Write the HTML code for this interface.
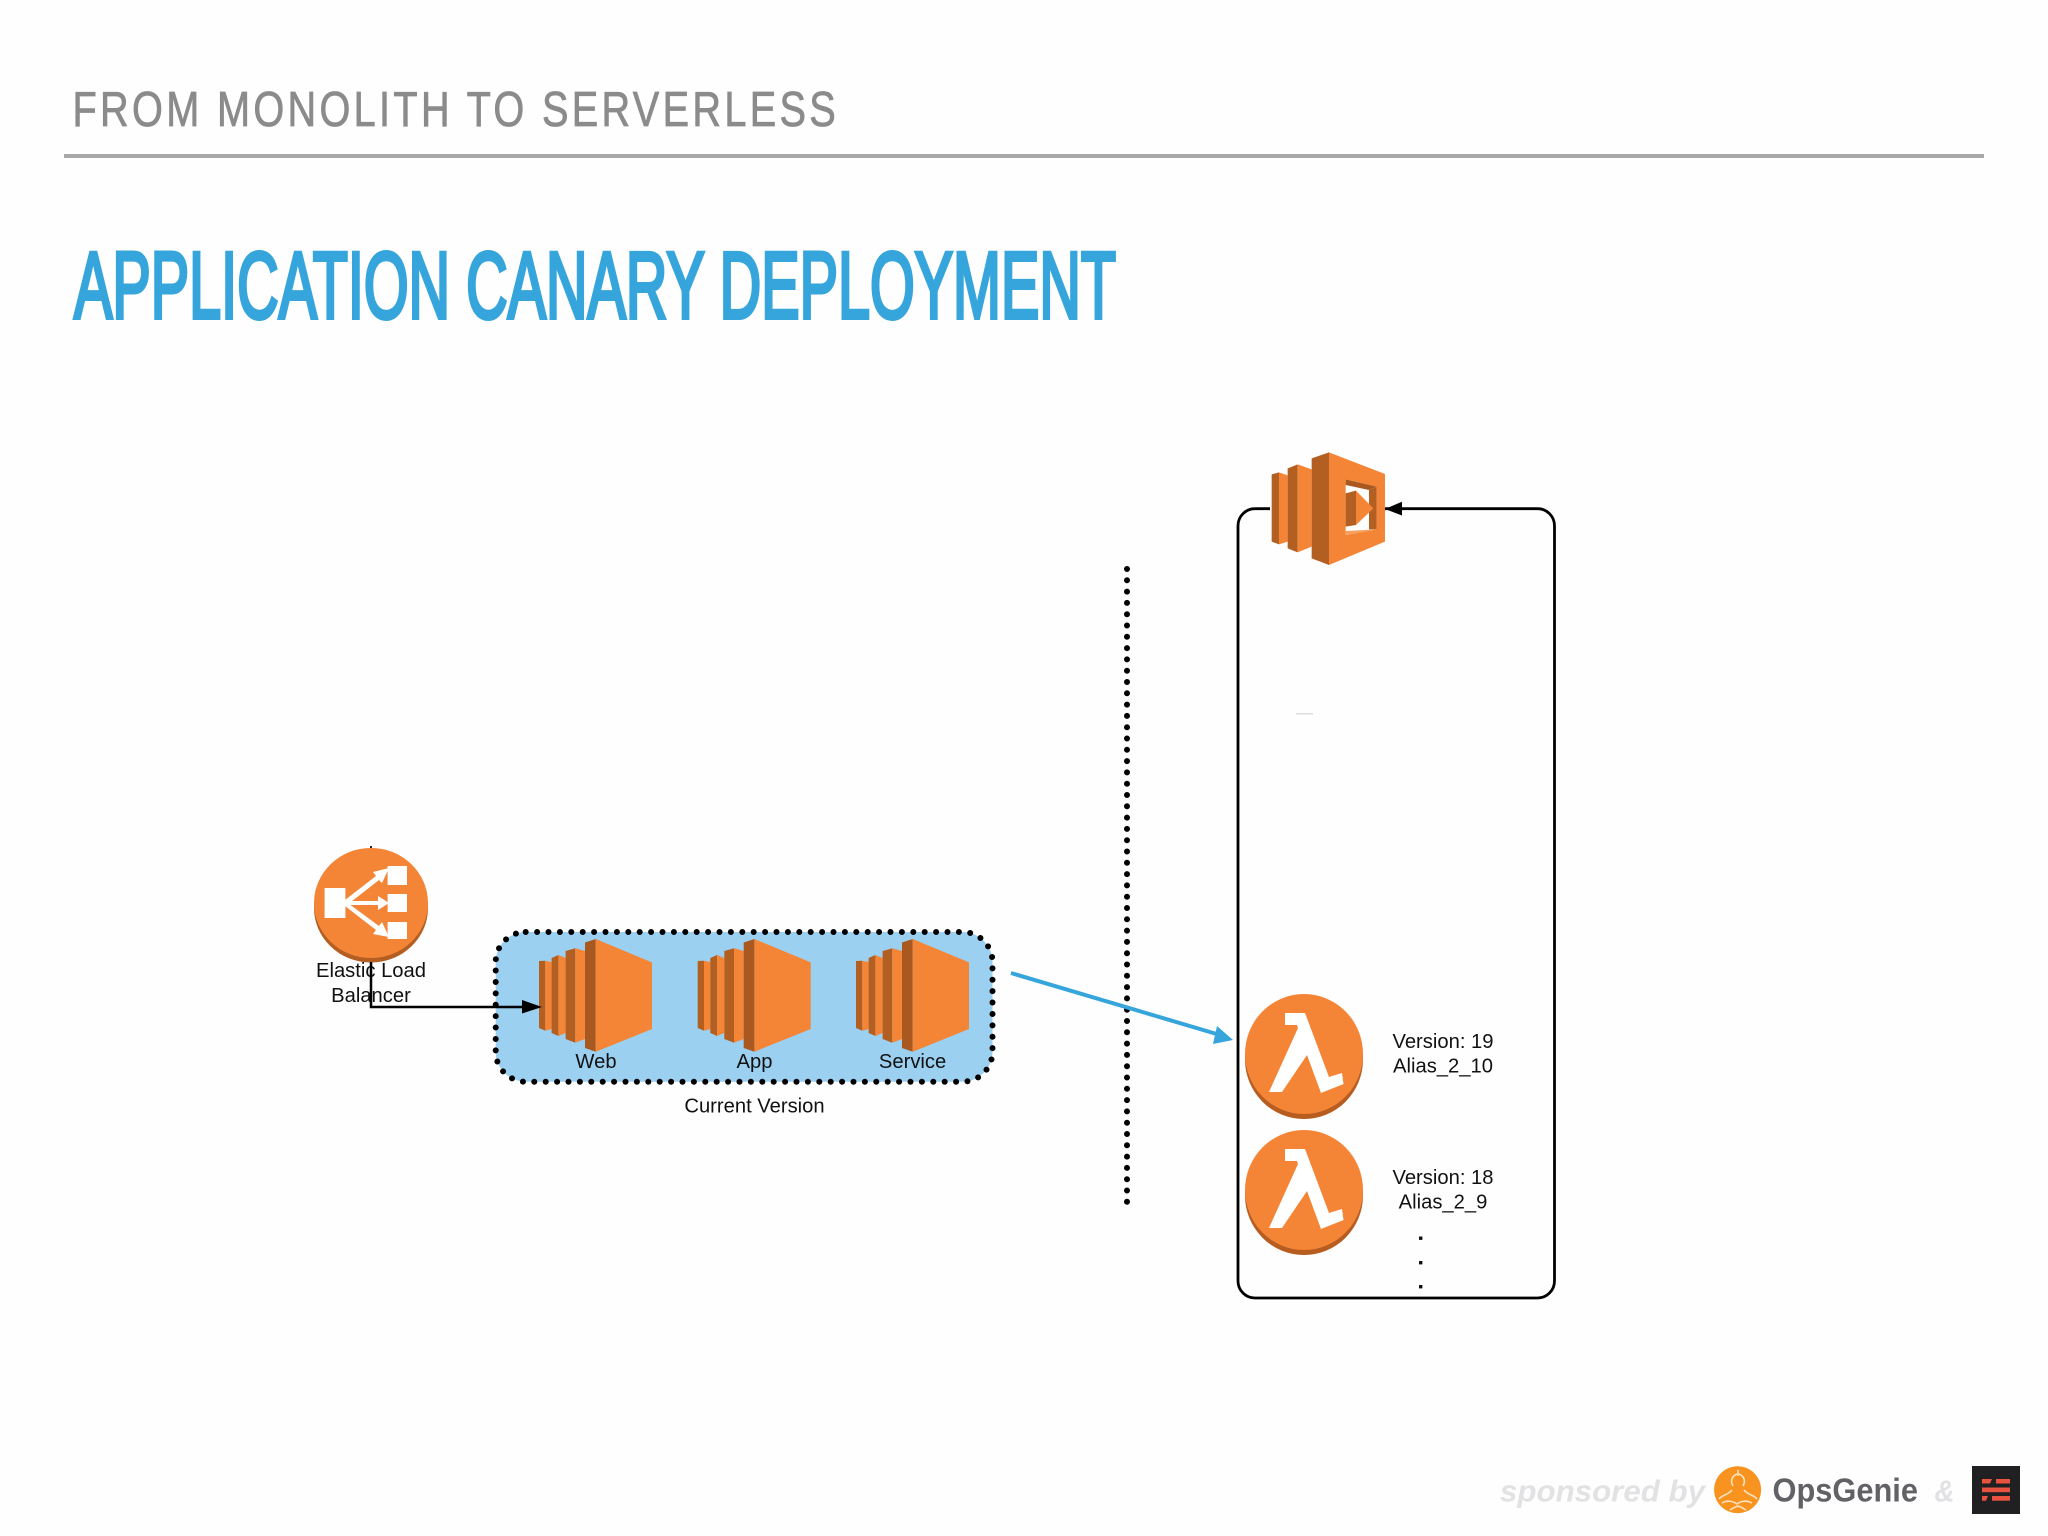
<!DOCTYPE html>
<html><head><meta charset="utf-8"><title>Application Canary Deployment</title>
<style>html,body{margin:0;padding:0;background:#fefefe}svg{display:block}text{font-family:"Liberation Sans",sans-serif}</style></head>
<body>
<svg xmlns="http://www.w3.org/2000/svg" width="2048" height="1536" viewBox="0 0 2048 1536">
<defs>
<g id="srv">
<polygon points="0,22 6.3,21.7 6.3,91.7 0,89" fill="#b35f22"/>
<polygon points="6.3,21.7 12.6,23 12.6,90 6.3,91.7" fill="#f58536"/>
<polygon points="12.6,19 19.4,16 19.4,97 12.6,94" fill="#b35f22"/>
<polygon points="19.4,16 26.6,19 26.6,94 19.4,97" fill="#f58536"/>
<polygon points="26.6,12 36.3,9.3 36.3,103.7 26.6,100" fill="#b35f22"/>
<polygon points="36.3,9.3 46,12 46,100 36.3,103.7" fill="#f58536"/>
<polygon points="46,3.5 56.7,0 56.7,112.7 46,109" fill="#a9591f"/>
<polygon points="56.7,0 113,23.4 113,90 56.7,112.7" fill="#f58536"/>
</g>
<g id="lam">
<ellipse cx="59" cy="65.5" rx="59" ry="59.5" fill="#b85d20"/>
<ellipse cx="59" cy="60" rx="59" ry="60" fill="#f58536"/>
<polygon points="40,19 60,19 84,83 97,79 98.5,90 76,99 62,61 37,98 24,98 53,34 52,31 40,31" fill="#fff"/>
</g>
</defs>

<text transform="translate(72.5 126) scale(.81,1)" font-size="49" fill="#8b8b8b" stroke="#8b8b8b" stroke-width=".8" letter-spacing="4.1">FROM MONOLITH TO SERVERLESS</text>
<rect x="64" y="154" width="1920" height="4" fill="#a8a8a8"/>
<text x="74" y="318" font-size="95" fill="#35a5dc" stroke="#35a5dc" stroke-width="4" textLength="1042" lengthAdjust="spacingAndGlyphs">APPLICATION CANARY DEPLOYMENT</text>

<!-- ELB -->
<rect x="370" y="846" width="2" height="6" fill="#222"/>
<ellipse cx="371" cy="908" rx="57" ry="54.5" fill="#b35f22"/>
<ellipse cx="371" cy="903" rx="57" ry="55" fill="#f58536"/>
<g fill="#fff">
<rect x="324.6" y="888" width="20.8" height="30"/>
<rect x="387.6" y="866" width="19.4" height="19"/>
<rect x="387.6" y="894" width="19.4" height="18"/>
<rect x="387.6" y="922" width="19.4" height="17"/>
<polygon points="345,900 376,876 373,872 389,868 382,883 379,880 347,905"/>
<polygon points="345,901 378,901 378,896 389,903 378,910 378,905 345,905"/>
<polygon points="345,901 379,926 382,922 389,937 373,934 376,930 345,906"/>
</g>

<!-- current version group -->
<rect x="495.7" y="932" width="496.8" height="149.7" rx="30" ry="30" fill="#9bd0f0" stroke="#000" stroke-width="6" stroke-linecap="round" stroke-dasharray="0 11.4"/>
<use href="#srv" x="539" y="939"/>
<use href="#srv" x="697.7" y="939"/>
<use href="#srv" x="856" y="939"/>

<text x="371" y="977" font-size="20.2" fill="#111" text-anchor="middle">Elastic Load</text>
<text x="371" y="1002" font-size="20.2" fill="#111" text-anchor="middle">Balancer</text>
<path d="M371 962V1007H525" fill="none" stroke="#000" stroke-width="2.5"/>
<polygon points="542,1007 522,1000 522,1013.5" fill="#000"/>
<text x="596" y="1068" font-size="20.2" fill="#111" text-anchor="middle">Web</text>
<text x="754.5" y="1068" font-size="20.2" fill="#111" text-anchor="middle">App</text>
<text x="912.6" y="1068" font-size="20.2" fill="#111" text-anchor="middle">Service</text>
<text x="754.5" y="1112.5" font-size="20.2" fill="#111" text-anchor="middle">Current Version</text>

<!-- dotted divider -->
<line x1="1127" y1="569" x2="1127" y2="1203" stroke="#000" stroke-width="6" stroke-linecap="round" stroke-dasharray="0 11.3"/>

<!-- blue arrow -->
<line x1="1011" y1="973" x2="1220" y2="1035" stroke="#35a5dc" stroke-width="4"/>
<polygon points="1233,1040 1217,1026 1213,1044" fill="#35a5dc"/>

<!-- lambda container -->
<rect x="1238" y="508.7" width="316.5" height="789.3" rx="17" ry="17" fill="#fefefe" stroke="#000" stroke-width="2.8"/>
<polygon points="1385,509 1402,501.7 1402,515.5" fill="#000"/>
<rect x="1296" y="713" width="17" height="1.5" fill="#ddd"/>

<!-- lambda function icon -->
<g transform="translate(1220 430) scale(.3333)">
<rect x="150" y="220" width="340" height="30" fill="#fefefe"/>
<polygon points="155,133 177,127 177,343 155,335" fill="#b35f22"/>
<polygon points="177,127 203,136 203,335 177,343" fill="#f58536"/>
<polygon points="203,115 233,103 233,367 203,355" fill="#b35f22"/>
<polygon points="233,103 275,118 275,350 233,367" fill="#f58536"/>
<polygon points="275,85 327,67 327,405 275,385" fill="#b35f22"/>
<polygon points="327,67 495,132 495,335 327,405" fill="#f58536"/>
<polygon points="377,148 470,170 470,298 377,315" fill="#fefefe"/>
<polygon points="377,148 470,170 447,180 377,165" fill="#a9591f"/>
<polygon points="447,180 470,170 470,298 447,298" fill="#b35f22"/>
<polygon points="377,315 470,298 377,303" fill="#f8a060"/>
<polygon points="377,190 408,182 408,285 377,290" fill="#b35f22"/>
<polygon points="408,182 460,235 408,285" fill="#f58536"/>
</g>

<!-- lambda versions -->
<use href="#lam" x="1245" y="994"/>
<use href="#lam" x="1245" y="1130"/>
<g font-size="20.2" fill="#111" text-anchor="middle">
<text x="1443" y="1048">Version: 19</text>
<text x="1443" y="1072.5">Alias_2_10</text>
<text x="1443" y="1184">Version: 18</text>
<text x="1443" y="1208.5">Alias_2_9</text>
</g>
<g fill="#111">
<rect x="1419" y="1236.5" width="3.4" height="3.4"/>
<rect x="1419" y="1261" width="3.4" height="3.4"/>
<rect x="1419" y="1285" width="3.4" height="3.4"/>
</g>

<!-- footer -->
<text x="1500" y="1501.5" font-size="31" font-weight="700" font-style="italic" fill="#e2e2e4" textLength="205" lengthAdjust="spacingAndGlyphs">sponsored by</text>
<circle cx="1737.6" cy="1489.7" r="23.5" fill="#f7931e"/>
<g fill="none" stroke="#fde3c0" stroke-width="1.6">
<path d="M1737 1474c-5 2-7 7-4 12M1739 1474c5 2 7 7 4 12"/>
<path d="M1738 1470v6"/>
<path d="M1732 1490c-4 5-10 5-13 9M1744 1490c4 5 10 5 13 9"/>
<path d="M1722 1503c5-3 11-2 15 1 4-3 10-4 15-1"/>
<path d="M1730 1510c3-2 5-3 8-4 3 1 5 2 8 4"/>
</g>
<text x="1772.5" y="1501.5" font-size="33" font-weight="700" fill="#626266" textLength="145.5" lengthAdjust="spacingAndGlyphs">OpsGenie</text>
<text x="1934.5" y="1501.5" font-size="31" font-weight="700" font-style="italic" fill="#e2e2e4" textLength="20" lengthAdjust="spacingAndGlyphs">&amp;</text>
<rect x="1972" y="1466" width="48" height="48" fill="#202022"/>
<g fill="#e8523f">
<polygon points="1982,1479 1992,1479 1990,1483.5 1982,1483.5"/>
<rect x="1996" y="1479" width="14" height="4.5"/>
<rect x="1982" y="1487.5" width="28" height="4.7"/>
<polygon points="1982,1496 1988,1496 1986,1500.7 1982,1500.7"/>
<rect x="1992" y="1496" width="18" height="4.7"/>
</g>
</svg>
</body></html>
